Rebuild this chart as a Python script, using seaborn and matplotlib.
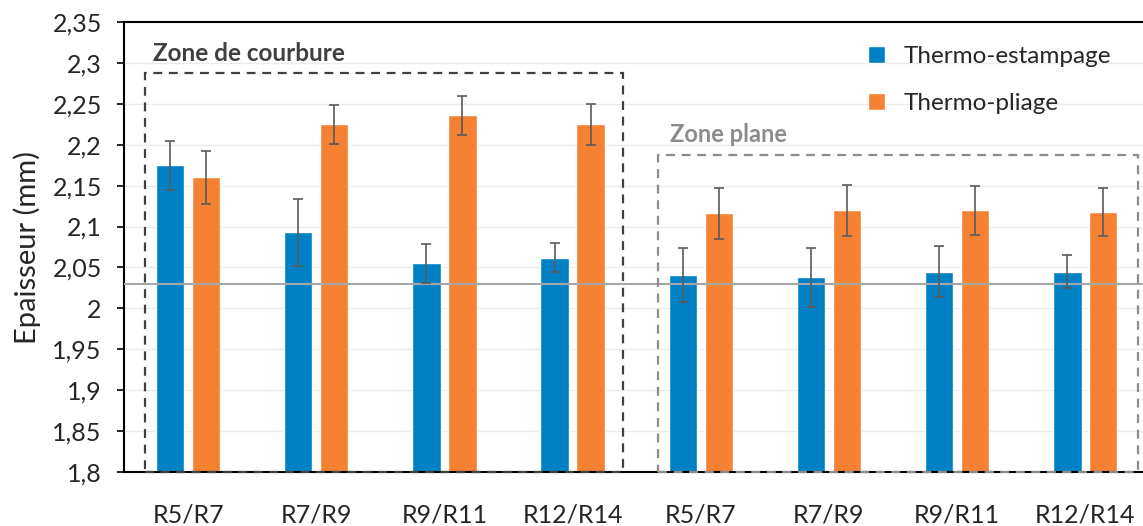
import matplotlib
matplotlib.use("Agg")

import matplotlib.pyplot as plt
import seaborn as sns
import pandas as pd
from matplotlib.patches import Rectangle

sns.set_style("white")
plt.rcParams['font.family'] = ['Lato', 'DejaVu Sans']

# data
zones = ["courbure"] * 4 + ["plane"] * 4
labels = ["R5/R7", "R7/R9", "R9/R11", "R12/R14",
          "R5/R7", "R7/R9", "R9/R11", "R12/R14"]
estampage = [2.175, 2.093, 2.055, 2.062, 2.041, 2.038, 2.045, 2.045]
estampage_err = [0.030, 0.041, 0.024, 0.018, 0.033, 0.036, 0.031, 0.020]
pliage = [2.160, 2.225, 2.236, 2.225, 2.116, 2.120, 2.120, 2.118]
pliage_err = [0.032, 0.024, 0.024, 0.025, 0.031, 0.031, 0.030, 0.029]
series = ["Thermo-estampage", "Thermo-pliage"]
reference_line = 2.03
y_ticks = [1.8, 1.85, 1.9, 1.95, 2.0, 2.05, 2.1, 2.15, 2.2, 2.25, 2.3, 2.35]
y_tick_labels = ["1,8", "1,85", "1,9", "1,95", "2", "2,05", "2,1", "2,15",
                 "2,2", "2,25", "2,3", "2,35"]

keys = [z + "-" + l for z, l in zip(zones, labels)]
df = pd.DataFrame({
    "key": keys * 2,
    "value": estampage + pliage,
    "series": [series[0]] * 8 + [series[1]] * 8,
})
errors = {series[0]: estampage_err, series[1]: pliage_err}

colors = {series[0]: "#0081C6", series[1]: "#F58233"}

fig = plt.figure(figsize=(11.43, 5.26), dpi=100)
ax = fig.add_axes([124 / 1143, 54 / 526, 1019 / 1143, 450 / 526])

sns.barplot(
    data=df,
    x="key",
    y="value",
    hue="series",
    order=keys,
    hue_order=series,
    palette=colors,
    saturation=1,
    width=0.56,
    gap=0.21,
    ax=ax,
    legend=True
)

# error bars on the bars seaborn placed
for cont, name in zip(ax.containers, series):
    xs = [p.get_x() + p.get_width() / 2 for p in cont.patches]
    ys = [p.get_height() + p.get_y() for p in cont.patches]
    ax.errorbar(xs, ys, yerr=errors[name], fmt="none",
                ecolor="#5a5a5a", elinewidth=1.2, capsize=3.5,
                capthick=1.2, zorder=4)

ax.axhline(reference_line, color="#a6a6a6", lw=1.5, zorder=3)

ax.set_ylim(1.8, 2.35)
ax.set_xlim(-0.5, 7.45)
ax.set_yticks(y_ticks)
ax.set_yticklabels(y_tick_labels)
ax.set_xticks(range(len(labels)))
ax.set_xticklabels(labels)
ax.yaxis.grid(True, color="#ebebeb", lw=1)
ax.set_axisbelow(True)

ax.tick_params(axis="y", left=True, length=5, width=1.2, pad=11,
               labelsize=18, color="black")
ax.tick_params(axis="x", bottom=False, pad=19, labelsize=18)
ax.set_xlabel("")
ax.set_ylabel("Epaisseur (mm)", fontsize=21, labelpad=8)

for side in ["left", "bottom", "top"]:
    ax.spines[side].set_color("black")
    ax.spines[side].set_linewidth(1.5)
ax.spines["right"].set_visible(False)

# zone boxes
ax.add_patch(Rectangle((-0.335, 1.8), 3.728, 0.4877, fill=False,
                       ls=(0, (4, 3)), lw=1.6, edgecolor="#404040",
                       zorder=5, clip_on=False))
ax.add_patch(Rectangle((3.668, 1.8), 3.744, 0.3874, fill=False,
                       ls=(0, (4, 3)), lw=1.6, edgecolor="#8c8c8c",
                       zorder=5, clip_on=False))
ax.text(-0.27, 2.312, "Zone de courbure", fontsize=17.5, fontweight="bold",
        color="#404040", va="center", ha="left")
ax.text(3.76, 2.212, "Zone plane", fontsize=17, fontweight="bold",
        color="#8c8c8c", va="center", ha="left")

leg = ax.legend(loc="upper right", bbox_to_anchor=(0.99, 0.995),
                frameon=False, fontsize=17.5, handlelength=0.7,
                handleheight=0.7, labelspacing=1.05, handletextpad=0.75)

fig.savefig("out.png", dpi=100)
